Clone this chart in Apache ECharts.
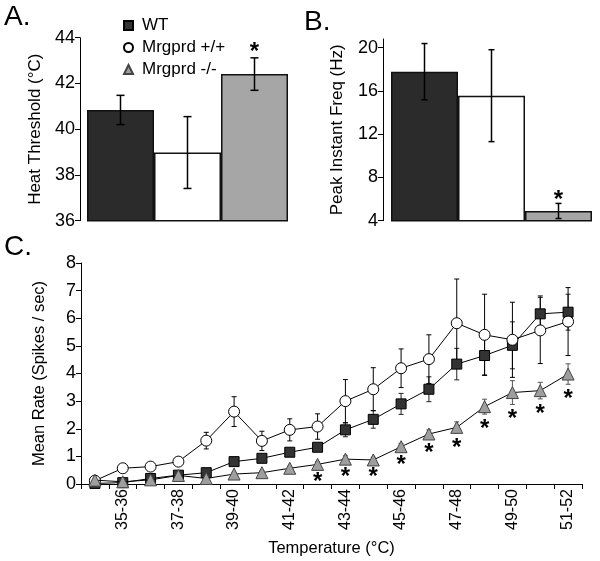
<!DOCTYPE html>
<html>
<head>
<meta charset="utf-8">
<script src="https://cdn.jsdelivr.net/npm/echarts@6/dist/echarts.min.js"></script>
<style>
    html, body { margin: 0; padding: 0; background: #fff; }
    #main { width: 600px; height: 561px; }
</style>
</head>
<body>
<div id="main"></div>
<script>
    // panel A / B : one bar per group
    var groups = ['WT', 'Mrgprd +/+', 'Mrgprd -/-'];
    var heatThreshold = [40.84, 38.98, 42.41];
    var heatThresholdErr = [0.64, 1.57, 0.71];
    var heatThresholdSig = [0, 0, 1];
    var peakFreq = [17.78, 15.56, 4.9];
    var peakFreqErr = [2.6, 4.25, 0.7];
    var peakFreqSig = [0, 0, 1];

    // panel C : mean rate per temperature bin
    var tempBins = ['34-35', '35-36', '36-37', '37-38', '38-39', '39-40', '40-41', '41-42', '42-43',
                    '43-44', '44-45', '45-46', '46-47', '47-48', '48-49', '49-50', '50-51', '51-52'];
    var wtRate = [0.02, 0.05, 0.2, 0.32, 0.41, 0.81, 0.93, 1.15, 1.33, 1.96, 2.34, 2.9, 3.43, 4.34, 4.65, 5.02, 6.16, 6.22];
    var wtErr = [0.03, 0.04, 0.06, 0.08, 0.1, 0.1, 0.12, 0.12, 0.12, 0.25, 0.32, 0.38, 0.45, 0.57, 0.7, 0.85, 0.65, 0.65];
    var ctrlRate = [0.12, 0.57, 0.63, 0.81, 1.57, 2.62, 1.56, 1.96, 2.08, 3.0, 3.43, 4.19, 4.52, 5.82, 5.4, 5.22, 5.56, 5.88];
    var ctrlErr = [0.05, 0.1, 0.12, 0.08, 0.3, 0.54, 0.35, 0.4, 0.46, 0.78, 0.78, 0.7, 0.88, 1.6, 1.47, 1.36, 1.2, 1.23];
    var koRate = [0.14, 0.08, 0.15, 0.31, 0.2, 0.36, 0.41, 0.57, 0.71, 0.9, 0.87, 1.35, 1.81, 2.05, 2.8, 3.31, 3.38, 3.98];
    var koErr = [0.04, 0.03, 0.04, 0.05, 0.05, 0.06, 0.07, 0.08, 0.1, 0.12, 0.1, 0.12, 0.15, 0.2, 0.27, 0.43, 0.3, 0.37];
    var koSig = [0, 0, 0, 0, 0, 0, 0, 0, 1, 1, 1, 1, 1, 1, 1, 1, 1, 1];

    var FONT = 'Liberation Sans, Arial, sans-serif';
    var barColors = ['#2b2b2b', '#ffffff', '#a6a6a6'];

    // error bars drawn with a custom series, '*' above (bars) or below (lines)
    function errorSeries(vals, errs, sig, xi, yi, o) {
        return {
            type: 'custom',
            xAxisIndex: xi,
            yAxisIndex: yi,
            z: o.z,
            silent: true,
            data: vals.map(function (v, i) { return [i, v, errs[i], sig ? sig[i] : 0]; }),
            renderItem: function (params, api) {
                var i = api.value(0), v = api.value(1), e = api.value(2);
                var top = api.coord([i, v + e]);
                var bot = api.coord([i, v - e]);
                var c = o.cap / 2;
                var st = { stroke: o.color, lineWidth: o.width };
                var kids = [
                    { type: 'line', shape: { x1: top[0], y1: top[1], x2: bot[0], y2: bot[1] }, style: st },
                    { type: 'line', shape: { x1: top[0] - c, y1: top[1], x2: top[0] + c, y2: top[1] }, style: st },
                    { type: 'line', shape: { x1: bot[0] - c, y1: bot[1], x2: bot[0] + c, y2: bot[1] }, style: st }
                ];
                if (api.value(3)) {
                    kids.push({
                        type: 'text',
                        style: {
                            text: '*', x: top[0],
                            y: o.below ? bot[1] + o.gap : top[1] - o.gap,
                            fill: '#000', font: 'bold 24px ' + FONT,
                            align: 'center', verticalAlign: 'middle'
                        }
                    });
                }
                return { type: 'group', children: kids };
            }
        };
    }

    var axisText = { color: '#000', fontSize: 18, fontFamily: FONT, margin: 5 };
    var nameText = { color: '#000', fontSize: 17, fontFamily: FONT };
    var axLine = { show: true, lineStyle: { color: '#000', width: 1 } };
    var axTick = { show: true, length: 5, lineStyle: { color: '#000' } };

    var myChart = echarts.init(document.getElementById('main'));
    var option = {
        animation: false,
        textStyle: { fontFamily: FONT },
        graphic: [
            { type: 'text', left: 4, top: 3, style: { text: 'A.', font: '28px ' + FONT, fill: '#000' } },
            { type: 'text', left: 304, top: 8, style: { text: 'B.', font: '28px ' + FONT, fill: '#000' } },
            { type: 'text', left: 4, top: 233, style: { text: 'C.', font: '28px ' + FONT, fill: '#000' } }
        ],
        legend: {
            orient: 'vertical',
            left: 118,
            top: 12,
            itemWidth: 9,
            itemHeight: 9,
            itemGap: 5,
            selectedMode: false,
            textStyle: { color: '#000', fontSize: 17, fontFamily: FONT, lineHeight: 17, padding: [0, 0, 0, 4] },
            data: [
                { name: 'WT', icon: 'rect' },
                { name: 'Mrgprd +/+', icon: 'circle' },
                { name: 'Mrgprd -/-', icon: 'triangle' }
            ]
        },
        grid: [
            { left: 87, top: 37.7, width: 201, height: 183 },
            { left: 391, top: 39, width: 201, height: 181.7 },
            { left: 81, top: 263, width: 501, height: 221 }
        ],
        xAxis: [
            { gridIndex: 0, type: 'category', data: groups, show: false },
            { gridIndex: 1, type: 'category', data: groups, show: false },
            {
                gridIndex: 2, type: 'category', data: tempBins, boundaryGap: true,
                name: 'Temperature (°C)', nameLocation: 'middle', nameGap: 56,
                nameTextStyle: { color: '#000', fontSize: 16.5, fontFamily: FONT },
                axisLine: axLine,
                axisTick: { show: true, length: 5, interval: 0, lineStyle: { color: '#000' } },
                axisLabel: {
                    color: '#000', fontSize: 16, fontFamily: FONT, rotate: 90, margin: 5,
                    interval: function (i) { return i % 2 === 1; }
                }
            }
        ],
        yAxis: [
            {
                gridIndex: 0, type: 'value', min: 36, max: 44, interval: 2, offset: 7,
                name: 'Heat Threshold (°C)', nameLocation: 'middle', nameGap: 36, nameTextStyle: nameText,
                axisLine: axLine, axisTick: axTick, axisLabel: axisText, splitLine: { show: false }
            },
            {
                gridIndex: 1, type: 'value', min: 4, max: 20.8, offset: 8,
                name: 'Peak Instant Freq (Hz)', nameLocation: 'middle', nameGap: 37, nameTextStyle: nameText,
                axisLine: axLine,
                axisTick: { show: true, length: 5, lineStyle: { color: '#000' }, customValues: [4, 8, 12, 16, 20] },
                axisLabel: { color: '#000', fontSize: 18, fontFamily: FONT, margin: 5, customValues: [4, 8, 12, 16, 20] },
                splitLine: { show: false }
            },
            {
                gridIndex: 2, type: 'value', min: 0, max: 8, interval: 1,
                name: 'Mean Rate (Spikes / sec)', nameLocation: 'middle', nameGap: 33,
                nameTextStyle: { color: '#000', fontSize: 16.5, fontFamily: FONT },
                axisLine: axLine, axisTick: axTick, axisLabel: axisText, splitLine: { show: false }
            }
        ],
        series: [
            {
                name: 'Heat threshold', type: 'bar', xAxisIndex: 0, yAxisIndex: 0, barCategoryGap: '0%',
                data: heatThreshold.map(function (v, i) {
                    return { value: v, itemStyle: { color: barColors[i], borderColor: '#111', borderWidth: 1.5 } };
                })
            },
            errorSeries(heatThreshold, heatThresholdErr, heatThresholdSig, 0, 0,
                { color: '#000', width: 1.5, cap: 8, z: 5, gap: 5 }),
            {
                name: 'Peak freq', type: 'bar', xAxisIndex: 1, yAxisIndex: 1, barCategoryGap: '0%',
                data: peakFreq.map(function (v, i) {
                    return { value: v, itemStyle: { color: barColors[i], borderColor: '#111', borderWidth: 1.5 } };
                })
            },
            errorSeries(peakFreq, peakFreqErr, peakFreqSig, 1, 1,
                { color: '#000', width: 1.5, cap: 6, z: 5, gap: 3 }),

            errorSeries(wtRate, wtErr, null, 2, 2, { color: '#222', width: 1, cap: 5, z: 1 }),
            errorSeries(ctrlRate, ctrlErr, null, 2, 2, { color: '#000', width: 1, cap: 5, z: 1 }),
            errorSeries(koRate, koErr, koSig, 2, 2, { color: '#555', width: 1, cap: 5, z: 1, below: true, gap: 15 }),
            {
                name: 'WT', type: 'line', xAxisIndex: 2, yAxisIndex: 2, data: wtRate,
                symbol: 'rect', symbolSize: 10, z: 3,
                lineStyle: { color: '#000', width: 1 },
                itemStyle: { color: '#333', borderColor: '#000', borderWidth: 1 }
            },
            {
                name: 'Mrgprd +/+', type: 'line', xAxisIndex: 2, yAxisIndex: 2, data: ctrlRate,
                symbol: 'circle', symbolSize: 11, z: 4, showAllSymbol: true,
                lineStyle: { color: '#000', width: 1 },
                itemStyle: { color: '#fff', borderColor: '#000', borderWidth: 1 }
            },
            {
                name: 'Mrgprd -/-', type: 'line', xAxisIndex: 2, yAxisIndex: 2, data: koRate,
                symbol: 'triangle', symbolSize: 12, z: 5,
                lineStyle: { color: '#000', width: 1 },
                itemStyle: { color: '#9e9e9e', borderColor: '#444', borderWidth: 1 }
            }
        ]
    };
    myChart.setOption(option);
    window.addEventListener('resize', function () {
        myChart.resize();
    });
</script>
</body>
</html>
